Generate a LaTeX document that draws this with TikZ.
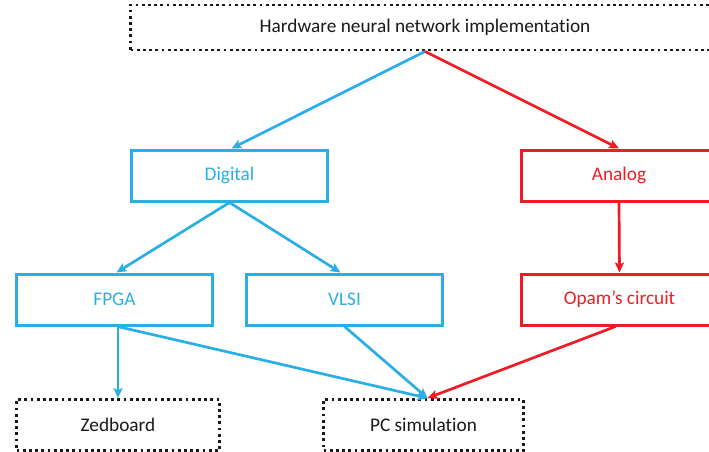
\documentclass[tikz,border=0pt]{standalone}
\usepackage{fontspec}
\setmainfont{Carlito}[Ligatures={NoCommon}]
\usetikzlibrary{arrows.meta}
\definecolor{hwblue}{HTML}{2AAEE6}
\definecolor{hwred}{HTML}{EE1D25}
\definecolor{hwink}{HTML}{1A1A1A}
\begin{document}
\begin{tikzpicture}[x=1pt,y=-1pt,
  lbl/.style={font=\fontsize{19.3}{22}\selectfont},
  box/.style={lbl, line width=3pt, minimum height=51pt, inner sep=0pt},
  bluebox/.style={box, draw=hwblue, text=hwblue, minimum width=196pt},
  redbox/.style={box, draw=hwred, text=hwred, minimum width=196pt},
  dotbox/.style={box, draw=hwink, text=hwink, line width=2.8pt,
    dash pattern=on 2.8pt off 3.4pt},
  tip/.style={-{Stealth[length=10pt,width=9pt,inset=2pt]}},
  bluearrow/.style={tip, draw=hwblue, fill=hwblue, line width=2.7pt},
  redarrow/.style={tip, draw=hwred, fill=hwred, line width=2.7pt}]
\useasboundingbox (0,0) rectangle (709,452);
\clip (0,0) rectangle (709,452);

% nodes
\node[dotbox, minimum width=589pt, minimum height=45pt] (hw) at (425,27.5) {Hardware neural network implementation};
\node[bluebox] (dig) at (229.5,175.5) {Digital};
\node[redbox]  (ana) at (619,175.5) {Analog};
\node[bluebox] (fpga) at (114.5,299.5) {FPGA};
\node[bluebox] (vlsi) at (344.5,299.5) {VLSI};
\node[redbox]  (opam) at (619.5,299.5) {Opam’s circuit};
\node[dotbox, minimum width=203pt] (zed) at (118,425) {Zedboard};
\node[dotbox, minimum width=200pt] (pc) at (423.5,425) {PC simulation};

\coordinate (pcin) at ([xshift=4pt]pc.north);

% connectors
\draw[bluearrow] (hw.south) -- ([xshift=2pt]dig.north);
\draw[redarrow]  (hw.south) -- (ana.north);
\draw[bluearrow] (dig.south) -- ([xshift=2pt]fpga.north);
\draw[bluearrow] (dig.south) -- ([xshift=-4pt]vlsi.north);
\draw[redarrow]  (ana.south) -- (opam.north);
\draw[bluearrow] (fpga.south -| zed.north) -- (zed.north);
\draw[bluearrow] ([xshift=3pt]fpga.south) -- (pcin);
\draw[bluearrow] (vlsi.south) -- (pcin);
\draw[redarrow]  ([xshift=-4pt]opam.south) -- (pcin);
\end{tikzpicture}
\end{document}
